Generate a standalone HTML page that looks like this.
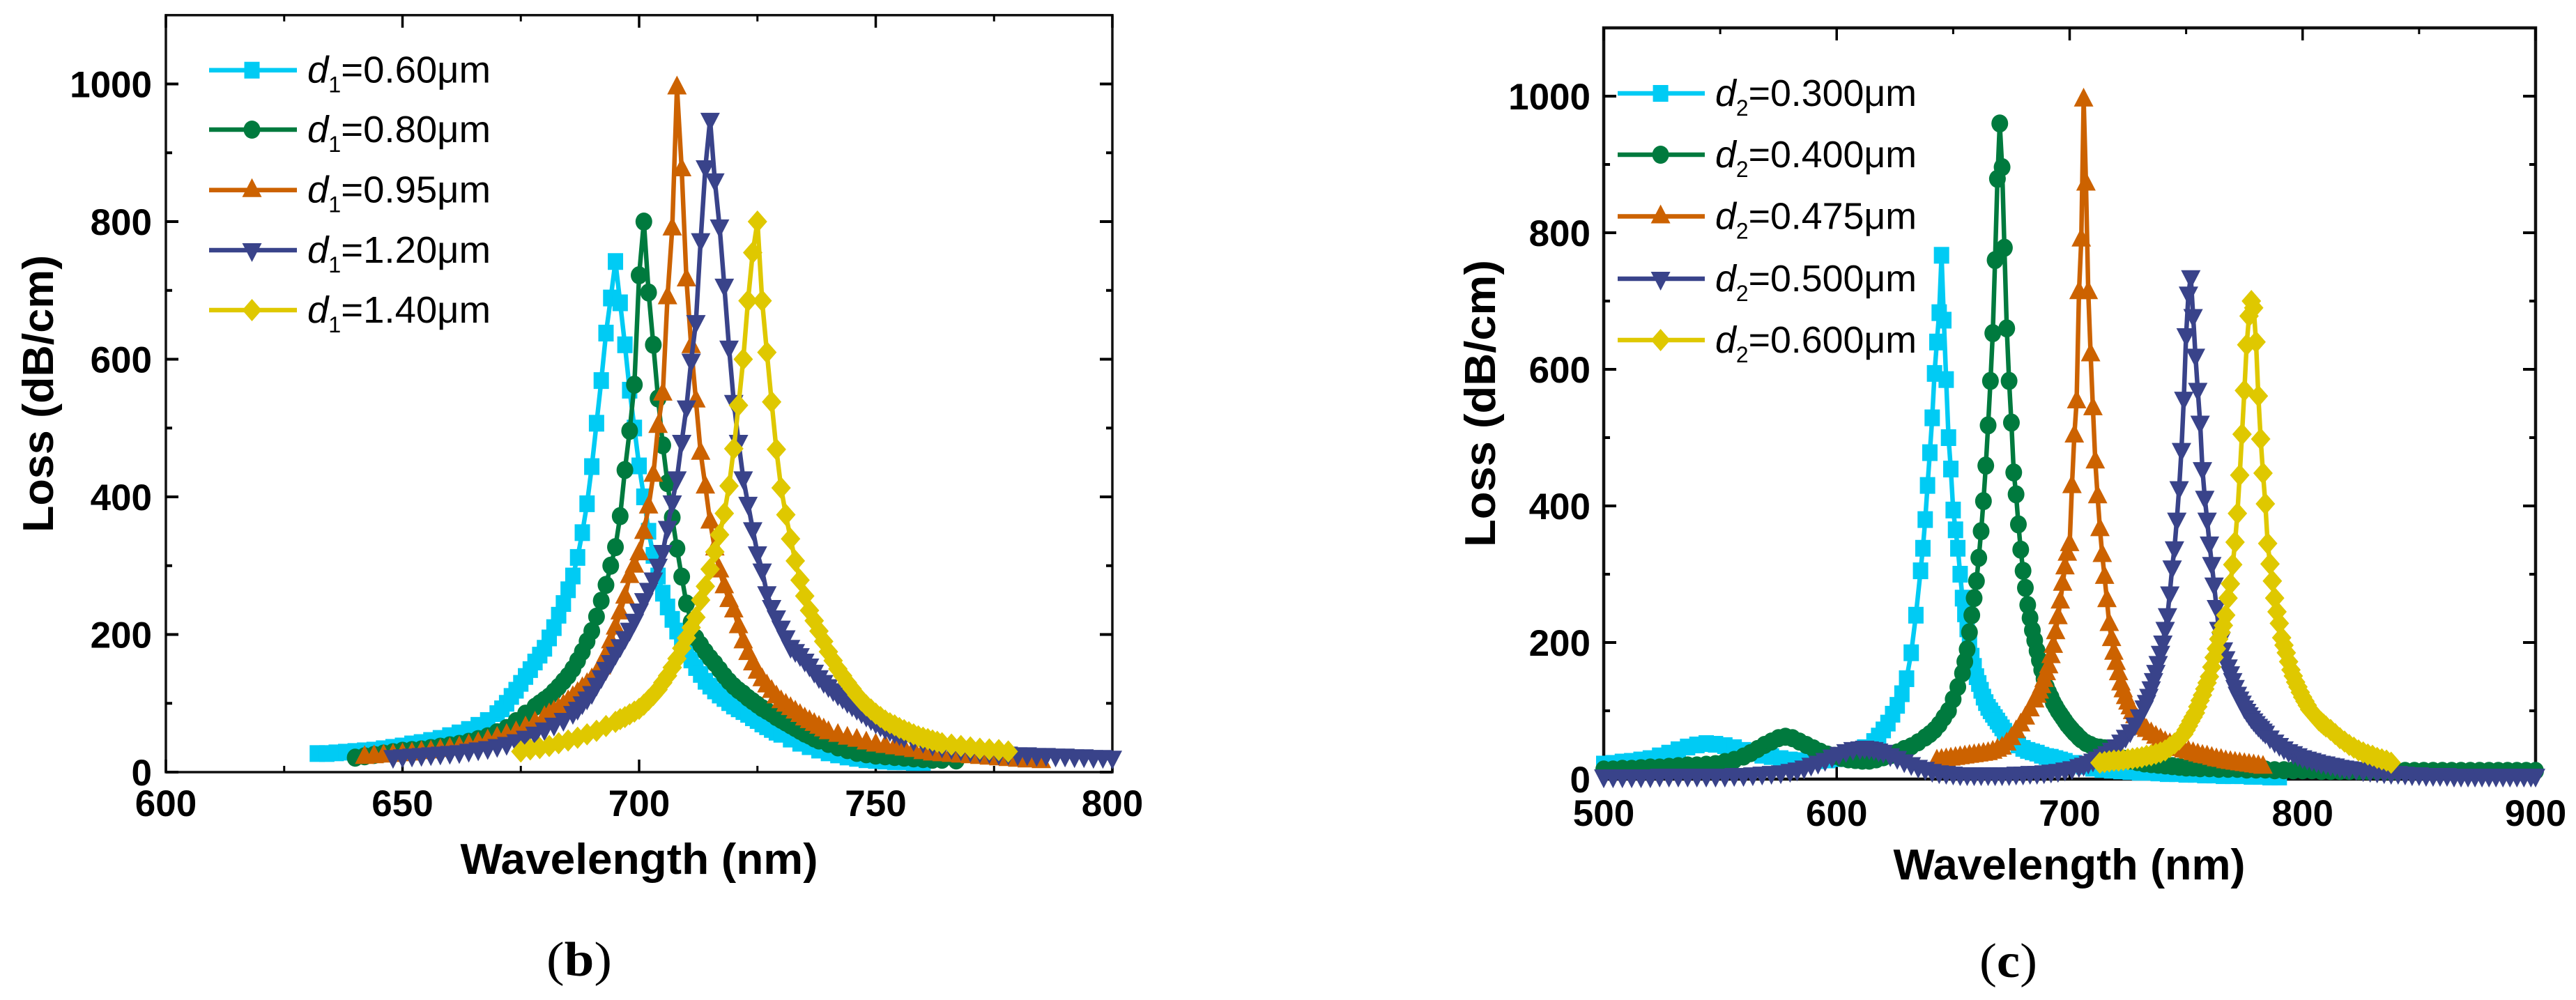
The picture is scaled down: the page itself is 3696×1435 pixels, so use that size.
<!DOCTYPE html>
<html lang="en">
<head>
<meta charset="utf-8">
<title>Loss versus wavelength for varying d1 and d2</title>
<style>
html,body{margin:0;padding:0;background:#fff;width:3696px;height:1435px;overflow:hidden}
svg{display:block}
text{font-family:"Liberation Sans",Arial,sans-serif;fill:#000}
.tick{font-size:53px;font-weight:700}
.title{font-size:62px;font-weight:700}
.cap{font-family:"Liberation Serif",serif;font-size:70px}
.leg{font-size:54px}
</style>
</head>
<body>
<svg id="figure" xmlns="http://www.w3.org/2000/svg" width="3696" height="1435" viewBox="0 0 3696 1435">
<rect x="0" y="0" width="3696" height="1435" fill="#fff"/>
<g id="panelB"></g>
<g id="panelC"></g>
<text class="title" x="917" y="1254" text-anchor="middle" textLength="513" lengthAdjust="spacingAndGlyphs">Wavelength (nm)</text>
<text class="title" transform="translate(76,565) rotate(-90)" text-anchor="middle" textLength="398" lengthAdjust="spacingAndGlyphs">Loss (dB/cm)</text>
<text class="title" x="2969" y="1262" text-anchor="middle" textLength="505" lengthAdjust="spacingAndGlyphs">Wavelength (nm)</text>
<text class="title" transform="translate(2145,579) rotate(-90)" text-anchor="middle" textLength="412" lengthAdjust="spacingAndGlyphs">Loss (dB/cm)</text>
<text class="cap" x="784" y="1400" textLength="94" lengthAdjust="spacingAndGlyphs">(<tspan font-weight="700">b</tspan>)</text>
<text class="cap" x="2840" y="1402" textLength="83" lengthAdjust="spacingAndGlyphs">(<tspan font-weight="700">c</tspan>)</text>
</svg>
<script>
// ---------- Axis ticks and legend labels ----------
const bXMajor = [600, 650, 700, 750, 800];
const bXMinor = [625, 675, 725, 775];
const cXMajor = [500, 600, 700, 800, 900];
const cXMinor = [550, 650, 750, 850];
const yMajor = [0, 200, 400, 600, 800, 1000];
const yMinor = [100, 300, 500, 700, 900];

const bLabels = ["=0.60\u03BCm", "=0.80\u03BCm", "=0.95\u03BCm", "=1.20\u03BCm", "=1.40\u03BCm"];
const cLabels = ["=0.300\u03BCm", "=0.400\u03BCm", "=0.475\u03BCm", "=0.500\u03BCm", "=0.600\u03BCm"];

// ---------- Panel (b) data ----------
const b060X = [632,634,636,638,640,642,644,646,648,650,
652,654,656,658,660,662,664,666,668,670,
671,672,673,674,675,676,677,678,679,680,
681,682,683,684,685,686,687,688,689,690,
691,692,693,694,695,696,697,698,699,700,
701,702,703,704,705,706,707,708,709,710,
711,712,713,714,715,716,717,718,719,720,
721,722,723,724,725,726,727,728,729,730,
732,734,736,738,740,742,744,746,748,750,
752,754,756,758,760];
const b060Y = [27,27,28,29,30,31,32,34,36,38,
41,43,46,49,53,57,62,68,75,85,
92,100,110,119,129,139,149,160,170,180,
195,210,228,245,265,285,312,348,390,444,
507,569,638,689,742,682,621,555,500,445,
400,350,315,285,260,240,222,205,190,175,
163,152,142,132,125,118,112,107,101,96,
92,88,84,79,75,70,66,62,58,55,
48,42,37,32,28,25,22,20,18,17,
16,15,15,14,14];

const b080X = [640,642,644,646,648,650,652,654,656,658,
660,662,664,666,668,670,672,674,676,678,
679,680,681,682,683,684,685,686,687,688,
689,690,691,692,693,694,695,696,697,698,
699,700,701,702,703,704,705,706,707,708,
709,710,711,712,713,714,715,716,717,718,
719,720,721,722,723,724,725,726,727,728,
729,730,731,732,733,734,735,736,737,738,
740,742,744,746,748,750,752,754,756,758,
760,762,764,767];
const b080Y = [21,23,25,27,29,31,32,33,35,37,
39,41,44,48,52,58,64,74,85,95,
100,105,110,117,124,132,140,150,162,175,
190,205,226,249,272,300,327,372,439,496,
563,722,800,697,621,543,475,420,370,325,
284,245,218,195,185,175,166,158,149,140,
132,125,119,114,108,103,98,93,89,85,
80,76,72,68,64,60,56,53,49,46,
41,36,32,28,26,24,23,22,21,20,
19,18,18,17];

const b095X = [642,644,646,648,650,652,654,656,658,660,
662,664,666,668,670,672,674,676,678,680,
681,682,683,684,685,686,687,688,689,690,
691,692,693,694,695,696,697,698,699,700,
701,702,703,704,705,706,707,708,709,710,
711,712,713,714,715,716,717,718,719,720,
721,722,723,724,725,726,727,728,729,730,
731,732,733,734,735,736,737,738,739,740,
742,744,746,748,750,752,754,756,758,760,
762,764,766,768,770,772,774,776,778,780,
782,785];
const b095Y = [22,23,24,25,26,27,29,30,32,34,
36,39,42,46,50,54,58,65,72,80,
84,88,92,97,103,109,115,122,128,135,
143,152,170,190,210,232,255,285,300,318,
349,386,432,503,550,690,790,995,876,716,
619,540,464,415,364,325,293,270,250,235,
212,190,173,158,146,135,126,118,110,103,
98,93,88,83,78,74,70,66,62,58,
54,50,47,43,40,38,36,34,32,29,
27,26,25,24,23,22,21,20,19,18,
17,16];

const b120X = [648,650,652,654,656,658,660,662,664,666,
668,670,672,674,676,678,680,682,684,686,
687,688,689,690,691,692,693,694,695,696,
697,698,699,700,701,702,703,704,705,706,
707,708,709,710,711,712,713,714,715,716,
717,718,719,720,721,722,723,724,725,726,
727,728,729,730,731,732,733,734,735,736,
737,738,739,740,741,742,743,744,745,746,
747,748,749,750,751,752,753,754,755,756,
758,760,762,764,766,768,770,772,774,776,
778,780,782,784,786,788,790,792,794,796,
798,800];
const b120Y = [22,23,24,25,26,27,28,29,31,33,
35,38,41,45,50,56,62,69,76,86,
92,100,107,115,127,138,150,160,172,183,
195,207,220,235,250,265,280,300,320,355,
392,427,480,530,598,654,773,879,948,860,
793,707,617,538,480,427,390,353,318,293,
260,240,225,210,196,182,176,170,162,155,
146,138,131,125,119,113,108,102,97,92,
87,82,77,72,68,64,61,58,55,52,
47,44,40,37,35,33,31,30,29,27,
27,26,26,25,25,24,24,23,23,22,
22,21];

const b140X = [675,677,679,681,683,685,687,689,691,693,
695,696,697,698,699,700,701,702,703,704,
705,706,707,708,709,710,711,712,713,714,
715,716,717,718,719,720,721,722,723,724,
725,726,727,728,729,730,731,732,733,734,
735,736,737,738,739,740,741,742,743,744,
745,746,747,748,749,750,751,752,753,754,
755,756,757,758,759,760,761,762,763,764,
766,768,770,772,774,776,778];
const b140Y = [30,33,35,38,42,46,50,55,60,67,
73,77,80,84,88,92,98,105,112,120,
130,140,152,165,180,195,210,225,250,270,
295,320,345,376,416,470,533,600,685,755,
800,685,610,538,469,413,374,339,307,279,
256,235,220,205,190,175,162,150,140,130,
121,112,104,97,91,85,80,75,71,68,
64,61,58,55,52,50,48,46,44,42,
40,38,36,34,33,32,30];

// ---------- Panel (c) data ----------
const c300X = [500,504,508,512,516,520,524,528,532,536,
540,544,548,552,556,560,564,568,572,576,
580,584,588,592,596,600,604,608,612,616,
618,620,622,624,626,628,630,632,634,636,
637,638,639,640,641,642,643,644,645,646,
647,648,649,650,651,652,653,654,655,656,
657,658,659,660,661,662,663,664,665,666,
667,668,669,670,671,672,673,674,675,676,
678,680,682,684,686,688,690,692,694,696,
698,702,706,710,714,718,722,726,730,734,
738,742,746,750,754,758,762,766,770,774,
778,782,786,790];
const c300Y = [22,23,25,26,28,30,34,38,43,47,
50,52,51,49,46,42,38,35,33,30,
28,27,27,27,28,30,33,38,46,55,
63,72,82,95,108,125,147,185,240,305,
338,380,430,478,529,594,640,683,767,672,
585,500,454,394,365,338,300,265,242,220,
200,180,165,150,140,130,120,112,105,100,
95,90,85,80,75,70,65,61,58,55,
50,45,42,40,38,35,33,32,30,28,
26,23,19,16,14,13,12,11,10,10,
9,8,8,7,7,6,6,5,5,5,
4,4,3,3];

const c400X = [500,504,508,512,516,520,524,528,532,536,
540,544,548,552,556,560,563,566,569,572,
575,578,581,584,587,590,593,596,599,602,
605,608,611,614,617,620,623,626,629,632,
635,638,640,642,644,646,648,650,652,654,
655,656,657,658,659,660,661,662,663,664,
665,666,667,668,669,670,671,672,673,674,
675,676,677,678,679,680,681,682,683,684,
685,686,687,688,689,690,691,692,693,694,
695,696,697,698,699,700,701,702,703,704,
705,707,709,711,713,715,717,719,721,723,
726,729,732,735,738,741,744,747,750,753,
756,760,764,768,772,776,780,784,788,792,
796,800,804,808,812,816,820,824,828,832,
836,840,844,848,852,856,860,864,868,872,
876,880,884,888,892,896,900];
const c400Y = [14,14,15,15,16,17,17,18,19,20,
20,21,22,25,28,33,38,44,50,55,
60,62,60,55,50,45,40,36,34,31,
29,28,27,27,29,32,35,39,44,48,
54,61,66,72,80,90,100,117,135,155,
172,190,215,240,265,290,324,363,407,459,
518,583,653,760,879,960,896,778,660,583,
522,449,417,373,336,305,280,255,236,218,
203,188,174,160,147,135,127,120,112,106,
100,95,90,85,80,76,72,68,65,61,
58,53,50,47,46,45,40,35,32,30,
27,25,23,22,21,20,19,18,17,17,
16,16,15,15,15,14,14,14,13,13,
13,13,13,12,12,12,12,12,12,12,
12,12,12,12,12,12,12,12,12,12,
12,12,12,12,12,12,12];

const c475X = [643,645,647,649,651,653,655,657,659,661,
663,665,667,669,671,673,675,677,679,681,
683,685,686,687,688,689,690,691,692,693,
694,695,696,697,698,699,700,701,702,703,
704,705,706,707,708,709,710,711,712,713,
714,715,716,717,718,719,720,721,722,723,
724,725,726,727,728,729,730,731,732,733,
735,737,739,741,743,745,747,749,751,753,
755,757,759,761,763,765,767,769,771,773,
775,777,779,781,783];
const c475Y = [27,28,29,30,31,32,33,34,35,36,
37,38,40,43,46,52,60,70,80,90,
102,115,122,128,136,145,155,165,180,195,
215,237,260,286,310,330,344,429,503,553,
713,790,995,872,713,622,543,465,414,366,
328,296,262,227,205,185,170,155,140,130,
120,112,105,98,92,87,82,78,75,72,
67,62,58,54,51,47,44,42,40,38,
36,34,33,31,29,28,26,25,24,23,
22,21,20,19,18];

const c500X = [500,504,508,512,516,520,524,528,532,536,
540,544,548,552,556,560,564,568,572,576,
580,583,586,589,592,595,598,601,604,607,
610,612,614,616,618,620,623,626,629,632,
635,638,641,644,647,650,653,656,659,662,
665,668,671,674,677,680,683,686,689,692,
695,698,701,704,706,708,710,712,714,716,
718,720,722,724,726,728,730,732,733,734,
735,736,737,738,739,740,741,742,743,744,
745,746,747,748,749,750,751,752,753,754,
755,756,757,758,759,760,761,762,763,764,
765,766,767,768,769,770,771,772,773,774,
775,776,777,778,779,780,781,782,783,784,
786,788,790,792,794,796,798,800,802,804,
806,808,810,812,814,816,818,820,823,826,
829,832,835,838,841,844,847,850,853,856,
859,862,865,868,871,874,877,880,883,886,
889,892,895,898,900];
const c500Y = [4,4,4,4,4,4,5,5,5,5,
5,5,5,5,6,6,7,8,9,10,
12,14,17,21,24,28,33,37,41,44,
45,46,45,44,42,40,35,31,26,22,
18,15,12,10,9,8,7,7,7,7,
7,7,7,7,8,8,9,9,10,11,
12,14,16,19,21,24,27,30,34,38,
43,48,55,62,70,80,92,105,113,122,
133,145,157,170,185,200,220,240,272,310,
338,380,426,482,557,650,711,735,678,620,
570,522,454,412,380,345,315,285,252,220,
205,190,177,165,155,145,135,125,118,112,
105,100,95,90,86,82,78,75,71,68,
61,55,50,45,41,38,35,32,30,28,
26,24,23,21,20,18,17,16,15,13,
12,11,10,9,9,8,7,7,6,6,
6,6,5,5,5,5,5,5,5,5,
5,5,5,5,5];

const c600X = [713,715,717,719,721,723,725,727,729,731,
733,735,737,739,741,743,745,747,749,750,
751,752,753,754,755,756,757,758,759,760,
761,762,763,764,765,766,767,768,769,770,
771,772,773,774,775,776,777,778,779,780,
781,782,783,784,785,786,787,788,789,790,
791,792,793,794,795,796,797,798,799,800,
801,802,803,804,805,806,807,808,809,810,
812,814,816,818,820,822,824,826,828,830,
832,834,836,838];
const c600Y = [24,25,26,27,27,28,29,30,31,32,
34,35,37,39,42,47,52,58,66,72,
78,85,91,97,106,115,123,132,141,150,
164,178,191,205,215,225,240,265,286,314,
347,389,445,505,569,636,678,700,690,640,
561,498,448,403,345,315,290,265,245,228,
207,196,185,172,160,151,142,135,127,120,
114,108,102,98,94,90,86,83,80,77,
72,66,60,55,50,46,42,39,36,34,
31,29,27,24];

const SVGNS = "http://www.w3.org/2000/svg";
const colours = ["#00CBF4", "#007A3E", "#CC6200", "#39438A", "#DFC800"];
const shapes = ["square", "circle", "triangle", "triangleDown", "diamond"];

function scaleX(panel, v) {
  return panel.left + (v - panel.xMin) / (panel.xMax - panel.xMin) * (panel.right - panel.left);
}
function scaleY(panel, v) {
  return panel.zero - v * panel.perUnit;
}

function drawMarker(parent, shape, cx, cy, colour) {
  let el;
  if (shape === "square") {
    el = document.createElementNS(SVGNS, "rect");
    el.setAttribute("x", cx - 11);
    el.setAttribute("y", cy - 12);
    el.setAttribute("width", 22);
    el.setAttribute("height", 24);
  } else if (shape === "circle") {
    el = document.createElementNS(SVGNS, "ellipse");
    el.setAttribute("cx", cx);
    el.setAttribute("cy", cy);
    el.setAttribute("rx", 12);
    el.setAttribute("ry", 13);
  } else {
    el = document.createElementNS(SVGNS, "polygon");
    let pts;
    if (shape === "triangle") {
      pts = [[cx, cy - 17], [cx + 14, cy + 10], [cx - 14, cy + 10]];
    } else if (shape === "triangleDown") {
      pts = [[cx, cy + 17], [cx + 14, cy - 10], [cx - 14, cy - 10]];
    } else {
      pts = [[cx, cy - 16], [cx + 14, cy], [cx, cy + 16], [cx - 14, cy]];
    }
    el.setAttribute("points", pts.map(function (p) { return p.join(","); }).join(" "));
  }
  el.setAttribute("fill", colour);
  
  
  parent.appendChild(el);
}

function drawSeries(root, panel, xs, ys, index, name) {
  const g = document.createElementNS(SVGNS, "g");
  
  
  const line = document.createElementNS(SVGNS, "polyline");
  line.setAttribute("fill", "none");
  line.setAttribute("stroke", colours[index]);
  line.setAttribute("stroke-width", 6.5);
  line.setAttribute("stroke-linejoin", "round");
  line.setAttribute("points", xs.map(function (x, i) {
    return scaleX(panel, x).toFixed(1) + "," + scaleY(panel, ys[i]).toFixed(1);
  }).join(" "));
  
  
  g.appendChild(line);
  xs.forEach(function (x, i) {
    drawMarker(g, shapes[index], scaleX(panel, x), scaleY(panel, ys[i]), colours[index]);
  });
  root.appendChild(g);
}

function drawLine(root, x1, y1, x2, y2, width, name) {
  const l = document.createElementNS(SVGNS, "line");
  l.setAttribute("x1", x1);
  l.setAttribute("y1", y1);
  l.setAttribute("x2", x2);
  l.setAttribute("y2", y2);
  l.setAttribute("stroke", "#000");
  l.setAttribute("stroke-width", width);
  
  
  root.appendChild(l);
}

function drawTickLabel(root, x, y, anchor, value, name) {
  const t = document.createElementNS(SVGNS, "text");
  t.setAttribute("class", "tick");
  t.setAttribute("x", x);
  t.setAttribute("y", y);
  t.setAttribute("text-anchor", anchor);
  
  
  t.textContent = String(value);
  root.appendChild(t);
}

function drawAxes(root, panel, xMajor, xMinor) {
  const top = scaleY(panel, 1100);
  const bot = scaleY(panel, 0);
  const sw = panel.frameWidth;
  const frame = document.createElementNS(SVGNS, "rect");
  frame.setAttribute("x", panel.left);
  frame.setAttribute("y", top);
  frame.setAttribute("width", panel.right - panel.left);
  frame.setAttribute("height", bot - top);
  frame.setAttribute("fill", "none");
  frame.setAttribute("stroke", "#111");
  frame.setAttribute("stroke-width", sw);
  
  
  root.appendChild(frame);
  xMajor.forEach(function (v) {
    const x = scaleX(panel, v);
    drawLine(root, x, bot, x, bot - 18, 3.5, "x-major-tick");
    drawLine(root, x, top, x, top + 18, 3.5, "x-major-tick-top");
    drawTickLabel(root, x, panel.xLabelBase, "middle", v, "x-tick-label");
  });
  xMinor.forEach(function (v) {
    const x = scaleX(panel, v);
    drawLine(root, x, bot, x, bot - 9, 3, "x-minor-tick");
    drawLine(root, x, top, x, top + 9, 3, "x-minor-tick-top");
  });
  yMajor.forEach(function (v) {
    const y = scaleY(panel, v);
    drawLine(root, panel.left, y, panel.left + 18, y, 4, "y-major-tick");
    drawLine(root, panel.right, y, panel.right - 18, y, 4, "y-major-tick-right");
    drawTickLabel(root, panel.yLabelRight, y + 19, "end", v, "y-tick-label");
  });
  yMinor.forEach(function (v) {
    const y = scaleY(panel, v);
    drawLine(root, panel.left, y, panel.left + 9, y, 4, "y-minor-tick");
    drawLine(root, panel.right, y, panel.right - 9, y, 4, "y-minor-tick-right");
  });
}

function drawLegend(root, lg, labels, sub) {
  labels.forEach(function (label, i) {
    const cy = lg.ys[i];
    const g = document.createElementNS(SVGNS, "g");
    
    
    const l = document.createElementNS(SVGNS, "line");
    l.setAttribute("x1", lg.x1);
    l.setAttribute("x2", lg.x2);
    l.setAttribute("y1", cy);
    l.setAttribute("y2", cy);
    l.setAttribute("stroke", colours[i]);
    l.setAttribute("stroke-width", 6.5);
    
    
    g.appendChild(l);
    drawMarker(g, shapes[i], lg.mx, cy, colours[i]);
    const t = document.createElementNS(SVGNS, "text");
    t.setAttribute("class", "leg");
    t.setAttribute("x", lg.tx);
    t.setAttribute("y", cy + 18);
    t.setAttribute("textLength", lg.tw);
    t.setAttribute("lengthAdjust", "spacingAndGlyphs");
    
    
    const d = document.createElementNS(SVGNS, "tspan");
    d.setAttribute("font-style", "italic");
    d.textContent = "d";
    const s = document.createElementNS(SVGNS, "tspan");
    s.setAttribute("font-size", "32");
    s.setAttribute("dy", "14");
    s.textContent = sub;
    const r = document.createElementNS(SVGNS, "tspan");
    r.setAttribute("dy", "-14");
    r.textContent = label;
    t.appendChild(d);
    t.appendChild(s);
    t.appendChild(r);
    g.appendChild(t);
    root.appendChild(g);
  });
}

const panelB = { left: 238, right: 1596, xMin: 600, xMax: 800, zero: 1108, perUnit: 0.9875, frameWidth: 3.5, xLabelBase: 1171, yLabelRight: 218 };
const panelC = { left: 2301, right: 3638, xMin: 500, xMax: 900, zero: 1118, perUnit: 0.98, frameWidth: 4.5, xLabelBase: 1185, yLabelRight: 2282 };

const rootB = document.getElementById("panelB");
const rootC = document.getElementById("panelC");

drawAxes(rootB, panelB, bXMajor, bXMinor);
drawSeries(rootB, panelB, b060X, b060Y, 0, "series-d1-0.60");
drawSeries(rootB, panelB, b080X, b080Y, 1, "series-d1-0.80");
drawSeries(rootB, panelB, b095X, b095Y, 2, "series-d1-0.95");
drawSeries(rootB, panelB, b120X, b120Y, 3, "series-d1-1.20");
drawSeries(rootB, panelB, b140X, b140Y, 4, "series-d1-1.40");
drawLegend(rootB, { x1: 300, x2: 426, mx: 361.5, tx: 441, tw: 263, ys: [100.7, 186, 272.7, 359, 445] }, bLabels, "1");

drawAxes(rootC, panelC, cXMajor, cXMinor);
drawSeries(rootC, panelC, c300X, c300Y, 0, "series-d2-0.300");
drawSeries(rootC, panelC, c400X, c400Y, 1, "series-d2-0.400");
drawSeries(rootC, panelC, c475X, c475Y, 2, "series-d2-0.475");
drawSeries(rootC, panelC, c500X, c500Y, 3, "series-d2-0.500");
drawSeries(rootC, panelC, c600X, c600Y, 4, "series-d2-0.600");
drawLegend(rootC, { x1: 2321, x2: 2446, mx: 2382.6, tx: 2461, tw: 289, ys: [134, 222, 310.5, 400, 488] }, cLabels, "2");
</script>
</body>
</html>
